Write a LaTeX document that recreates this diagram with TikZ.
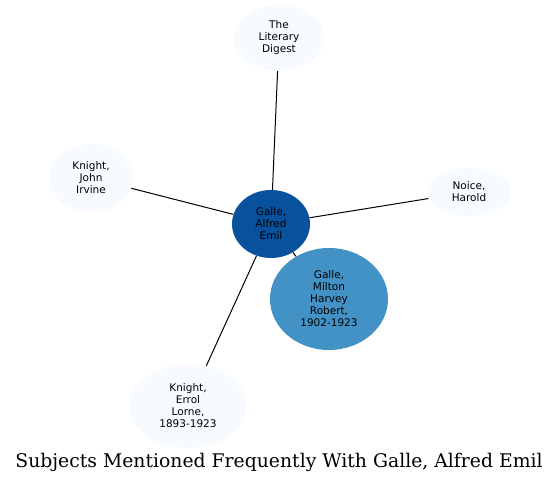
\documentclass[tikz,border=0pt]{standalone}
\usepackage{fontspec}
\setmainfont{DejaVu Sans}
\newfontfamily\titlefont{DejaVu Serif}
\usetikzlibrary{shapes.geometric}
\definecolor{light}{HTML}{F7FBFF}
\definecolor{dark}{HTML}{08519C}
\definecolor{mid}{HTML}{4292C6}
\tikzset{
  subj/.style={ellipse, draw=none, fill=light, inner sep=0pt, align=center, font=\fontsize{10.5}{12}\selectfont},
  edge/.style={draw=black, line width=1pt}
}
\begin{document}
\begin{tikzpicture}[x=1pt,y=-1pt]
\useasboundingbox (0,0) rectangle (560,484);
\node[subj, minimum width=90pt, minimum height=66pt] (lit) at (279,38) {The\\Literary\\Digest};
\node[subj, minimum width=84pt, minimum height=68pt] (kji) at (91,178) {Knight,\\John\\Irvine};
\node[subj, minimum width=84pt, minimum height=48pt] (noi) at (469,192) {Noice,\\Harold};
\node[subj, fill=dark, minimum width=78pt, minimum height=68pt] (gae) at (271,224) {Galle,\\Alfred\\Emil};
\node[subj, fill=mid, minimum width=118pt, minimum height=102pt] (gmh) at (329,299) {Galle,\\Milton\\Harvey\\Robert,\\1902-1923};
\node[subj, minimum width=118pt, minimum height=84pt] (kel) at (188,406) {Knight,\\Errol\\Lorne,\\1893-1923};
\draw[edge] (gae) -- (lit);
\draw[edge] (gae) -- (kji);
\draw[edge] (gae) -- (noi);
\draw[edge] (gae) -- (gmh);
\draw[edge] (gae) -- (kel);
\node[font=\titlefont\fontsize{18.8}{21}\selectfont] (title) at (279,462) {Subjects Mentioned Frequently With Galle, Alfred Emil};
\end{tikzpicture}
\end{document}
